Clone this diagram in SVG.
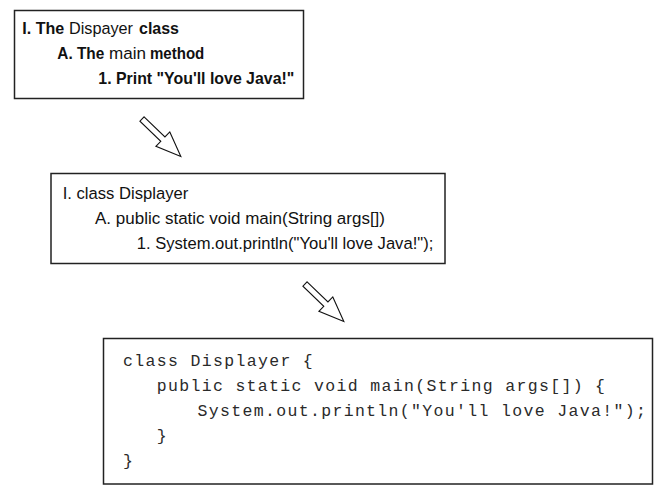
<svg xmlns="http://www.w3.org/2000/svg" width="665" height="497" viewBox="0 0 665 497">
<style>
.box{fill:#fff;stroke:#222;stroke-width:1.5}
.arrow{fill:#fff;stroke:#111;stroke-width:1.1;stroke-linejoin:miter}
.t{font-family:"Liberation Sans",Arial,sans-serif;font-size:16.3px;fill:#111}
.b{font-weight:bold}
.code{font-family:"Liberation Mono","Courier New",monospace;font-size:16.5px;letter-spacing:1.34px;fill:#2a2a2a}
</style>
<defs>
<polygon id="blockArrow" points="0,-3 29,-3 29,-10 54,0 29,10 29,3 0,3"/>
</defs>
<rect width="665" height="497" fill="#fff"/>
<g id="outline">
<rect class="box" x="14.5" y="10.5" width="289" height="88"/>
<text class="t" y="34"><tspan class="b" x="22.3" textLength="42" lengthAdjust="spacingAndGlyphs">I. The</tspan><tspan x="69" textLength="64" lengthAdjust="spacingAndGlyphs">Dispayer</tspan><tspan class="b" x="139" textLength="40" lengthAdjust="spacingAndGlyphs">class</tspan></text>
<text class="t" y="59"><tspan class="b" x="57.3" textLength="47" lengthAdjust="spacingAndGlyphs">A. The</tspan><tspan x="109" textLength="37" lengthAdjust="spacingAndGlyphs">main</tspan><tspan class="b" x="150" textLength="54.3" lengthAdjust="spacingAndGlyphs">method</tspan></text>
<text class="t b" x="98.3" y="84" textLength="196" lengthAdjust="spacingAndGlyphs">1. Print "You'll love Java!"</text>
</g>
<g id="pseudocode">
<rect class="box" x="51" y="173.5" width="394" height="90"/>
<text class="t" x="62.7" y="199" textLength="125.6" lengthAdjust="spacingAndGlyphs">I. class Displayer</text>
<text class="t" x="95" y="224" textLength="290" lengthAdjust="spacingAndGlyphs">A. public static void main(String args[])</text>
<text class="t" x="136.7" y="248.5" textLength="296.6" lengthAdjust="spacingAndGlyphs">1. System.out.println("You'll love Java!");</text>
</g>
<g id="javacode">
<rect class="box" x="103.5" y="338.5" width="549" height="145.5"/>
<text class="code" x="123" y="365.7" xml:space="preserve">class Displayer {</text>
<text class="code" x="156.7" y="390.7" xml:space="preserve">public static void main(String args[]) {</text>
<text class="code" x="197.5" y="415.7" xml:space="preserve">System.out.println("You'll love Java!");</text>
<text class="code" x="156.7" y="440.7">}</text>
<text class="code" x="123" y="465.7">}</text>
</g>
<g id="connectors">
<use href="#blockArrow" class="arrow" transform="translate(142,119) rotate(44)"/>
<use href="#blockArrow" class="arrow" transform="translate(305,284) rotate(44)"/>
</g>
</svg>
